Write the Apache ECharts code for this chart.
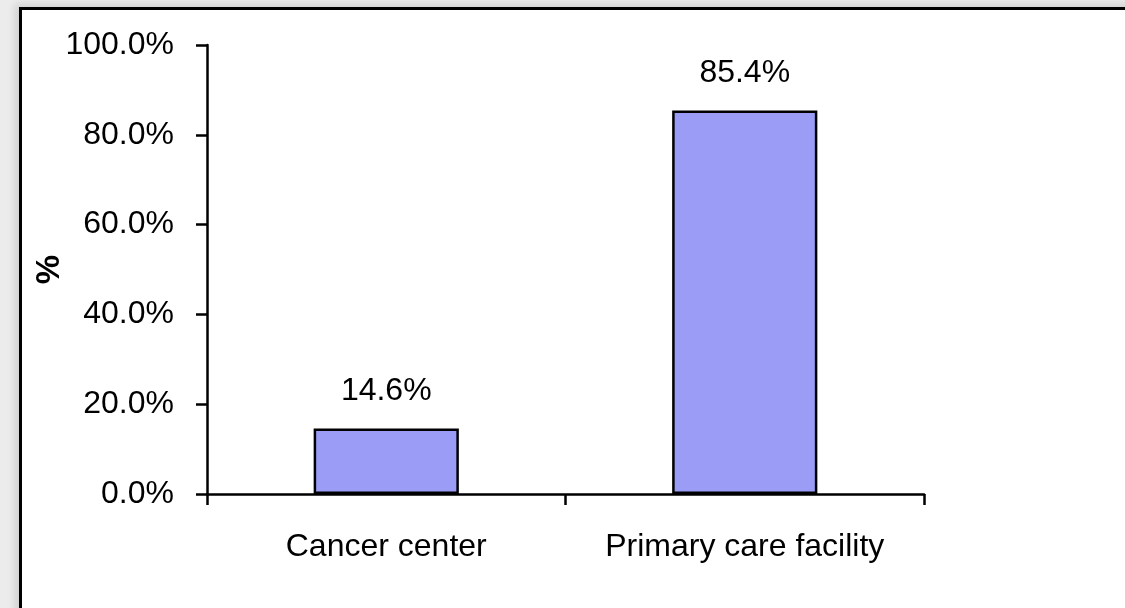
<!DOCTYPE html>
<html>
<head>
<meta charset="utf-8">
<script src="https://cdn.jsdelivr.net/npm/echarts@6/dist/echarts.min.js"></script>
<style>
  html, body { margin: 0; padding: 0; width: 1125px; height: 608px; overflow: hidden; background: #ececec; }
  #frame { position: absolute; left: 19px; top: 7px; width: 1200px; height: 700px;
           border: 3px solid #000; background: #fff; box-shadow: -4px -3px 8px rgba(0,0,0,0.12); }
  #chart { position: absolute; left: 0; top: 0; width: 1125px; height: 608px; }
</style>
</head>
<body>
<div id="frame"></div>
<div id="chart"></div>
<script>
// Share of respondents by facility type
const categories = ['Cancer center', 'Primary care facility'];
const shares = [14.6, 85.4];
const yTicks = [0, 20, 40, 60, 80, 100];

const chart = echarts.init(document.getElementById('chart'), null, { renderer: 'canvas' });
const font = 'Liberation Sans, Arial, Helvetica, sans-serif';

chart.setOption({
  animation: false,
  backgroundColor: 'transparent',
  grid: { left: 207, right: 201, top: 45, bottom: 114 },
  xAxis: {
    type: 'category',
    data: categories,
    axisLine: { lineStyle: { color: '#000', width: 2.5 } },
    axisTick: { show: true, interval: 0, length: 11, lineStyle: { color: '#000', width: 2.5 } },
    axisLabel: { interval: 0, hideOverlap: false, color: '#000', fontSize: 32, fontFamily: font, margin: 37 }
  },
  yAxis: {
    type: 'value',
    min: yTicks[0],
    max: yTicks[yTicks.length - 1],
    interval: 20,
    name: '%',
    nameLocation: 'middle',
    nameGap: 141,
    nameMoveOverlap: false,
    nameRotate: 90,
    nameTextStyle: { color: '#000', fontSize: 33, fontWeight: 'bold', fontFamily: font },
    axisLine: { show: true, lineStyle: { color: '#000', width: 2.5 } },
    axisTick: { show: true, length: 11, lineStyle: { color: '#000', width: 2.5 } },
    splitLine: { show: false },
    axisLabel: {
      color: '#000', fontSize: 32, fontFamily: font, margin: 33,
      formatter: v => v.toFixed(1) + '%'
    }
  },
  series: [{
    type: 'bar',
    data: shares,
    barWidth: '40.5%',
    itemStyle: { color: '#9A9CF6', borderColor: '#000', borderWidth: 2.5 },
    label: {
      show: true, position: 'top', distance: 21,
      color: '#000', fontSize: 32, fontFamily: font,
      formatter: p => p.value.toFixed(1) + '%'
    }
  }]
});
</script>
</body>
</html>
